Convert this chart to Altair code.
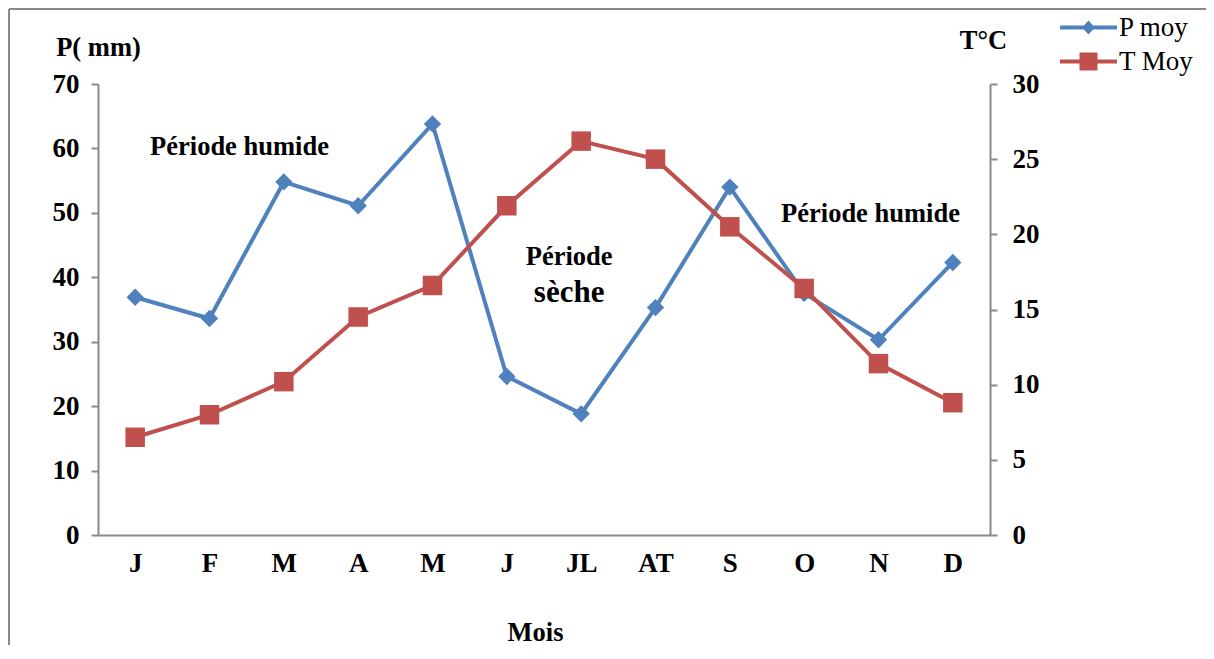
import altair as alt
import pandas as pd

mois = ["J", "F", "M", "A", "M ", "J ", "JL", "AT", "S", "O", "N", "D"]
p_moy = [36.9, 33.6, 54.8, 51.1, 63.8, 24.6, 18.8, 35.3, 54.0, 37.5, 30.3, 42.3]
t_moy = [6.5, 8.0, 10.2, 14.5, 16.6, 21.9, 26.2, 25.0, 20.5, 16.4, 11.4, 8.8]
series = ["P moy", "T Moy"]
colors = ["#4F81BD", "#C0504D"]

ann_text = ["Période humide", "Période humide", "Période", "sèche"]
ann_mois = ["F", "N", "JL", "JL"]
ann_val = [60.2, 49.8, 43.1, 37.6]
ann_dx = [30, -8, -12, -12]
ann_size = [26.5, 26.5, 26.5, 31]

FONT = "Times New Roman, Liberation Serif, serif"
GRAY = "#898989"

df = pd.DataFrame({"mois": mois, "P": p_moy, "T": t_moy})
leg = pd.DataFrame({"serie": series, "mois": ["J", "J"], "P": [0, 0]})

xenc = alt.X("mois:N", sort=mois, scale=alt.Scale(padding=0.5),
             axis=alt.Axis(title="Mois", labelExpr="trim(datum.label)",
                           labelAngle=0, ticks=False, labelPadding=15,
                           labelFont=FONT, labelFontWeight="bold", labelFontSize=27,
                           labelColor="black",
                           domainColor=GRAY, domainWidth=2,
                           titleFont=FONT, titleFontWeight="bold", titleFontSize=26.5,
                           titleColor="black", titleX=437, titleY=97,
                           titleBaseline="middle", grid=False))

yP = alt.Y("P:Q", scale=alt.Scale(domain=[0, 70], nice=False),
           axis=alt.Axis(title="P( mm)", values=list(range(0, 71, 10)),
                         orient="left", tickSize=7, tickColor=GRAY, tickWidth=2,
                         domainColor=GRAY, domainWidth=2, labelPadding=12,
                         labelFont=FONT, labelFontWeight="bold", labelFontSize=27,
                         labelColor="black", grid=False,
                         titleFont=FONT, titleFontWeight="bold", titleFontSize=26.5,
                         titleColor="black", titleAngle=0, titleX=0, titleY=-37,
                         titleAlign="center", titleBaseline="middle"))

yT = alt.Y("T:Q", scale=alt.Scale(domain=[0, 30], nice=False),
           axis=alt.Axis(title="T°C", values=list(range(0, 31, 5)),
                         orient="right", tickSize=7, tickColor=GRAY, tickWidth=2,
                         domainColor=GRAY, domainWidth=2, labelPadding=15,
                         labelFont=FONT, labelFontWeight="bold", labelFontSize=27,
                         labelColor="black", grid=False,
                         titleFont=FONT, titleFontWeight="bold", titleFontSize=26.5,
                         titleColor="black", titleAngle=0, titleX=-7, titleY=-44,
                         titleAlign="center", titleBaseline="middle"))

base = alt.Chart(df)

p_line = base.mark_line(color=colors[0], strokeWidth=4).encode(x=xenc, y=yP)
p_pts = base.mark_point(shape="diamond", filled=True, opacity=1, size=300,
                        color=colors[0]).encode(x=xenc, y=yP)

# legend symbols: a short line with the marker in its middle
diamond_path = ("M-2.257,-0.114H1V0.114H-2.257Z"
                "M-0.629,-0.4L-0.259,0L-0.629,0.4L-0.999,0Z")
square_path = ("M-2.257,-0.114H1V0.114H-2.257Z"
               "M-1.143,-0.514H-0.115V0.514H-1.143Z")

leg_props = dict(title=None, orient="none", legendX=984, legendY=-74,
                 labelFont=FONT, labelFontSize=27, labelColor="black",
                 symbolSize=1225, labelOffset=2, rowPadding=3, padding=0,
                 symbolStrokeWidth=0, symbolOpacity=1)

legend_layer = alt.Chart(leg).transform_filter("datum.P > 1").mark_point(
    filled=True, opacity=1).encode(
    x=xenc, y=yP,
    color=alt.Color("serie:N", scale=alt.Scale(domain=series, range=colors),
                    legend=alt.Legend(**leg_props)),
    shape=alt.Shape("serie:N", scale=alt.Scale(domain=series,
                                               range=[diamond_path, square_path]),
                    legend=alt.Legend(**leg_props)),
)

text_layers = []
for t, m, v, d, s in zip(ann_text, ann_mois, ann_val, ann_dx, ann_size):
    a = pd.DataFrame({"text": [t], "mois": [m], "P": [v]})
    text_layers.append(
        alt.Chart(a).mark_text(font=FONT, fontWeight="bold", color="black",
                               baseline="middle", align="center", dx=d,
                               fontSize=s).encode(x=xenc, y=yP, text="text:N"))

frame_top = alt.Chart(df).mark_rule(color=GRAY, strokeWidth=2).encode(
    x=alt.value(-89), x2=alt.value(1120), y=alt.value(-75))
frame_left = alt.Chart(df).mark_rule(color=GRAY, strokeWidth=2).encode(
    x=alt.value(-89), y=alt.value(-75), y2=alt.value(600))

P = alt.layer(frame_top, frame_left, p_line, p_pts, *text_layers, legend_layer)

t_line = base.mark_line(color=colors[1], strokeWidth=4).encode(x=xenc, y=yT)
t_pts = base.mark_point(shape="square", filled=True, opacity=1, size=380,
                        color=colors[1]).encode(x=xenc, y=yT)
T = alt.layer(t_line, t_pts)

chart = alt.layer(P, T).resolve_scale(y="independent").properties(
    width=892, height=451,
    autosize=alt.AutoSizeParams(type="none"),
    padding={"left": 90, "top": 76, "right": 216, "bottom": 110},
    background="white",
).configure_view(stroke=None)

chart.save("out.html", embed_options={"renderer": "svg", "actions": False})
